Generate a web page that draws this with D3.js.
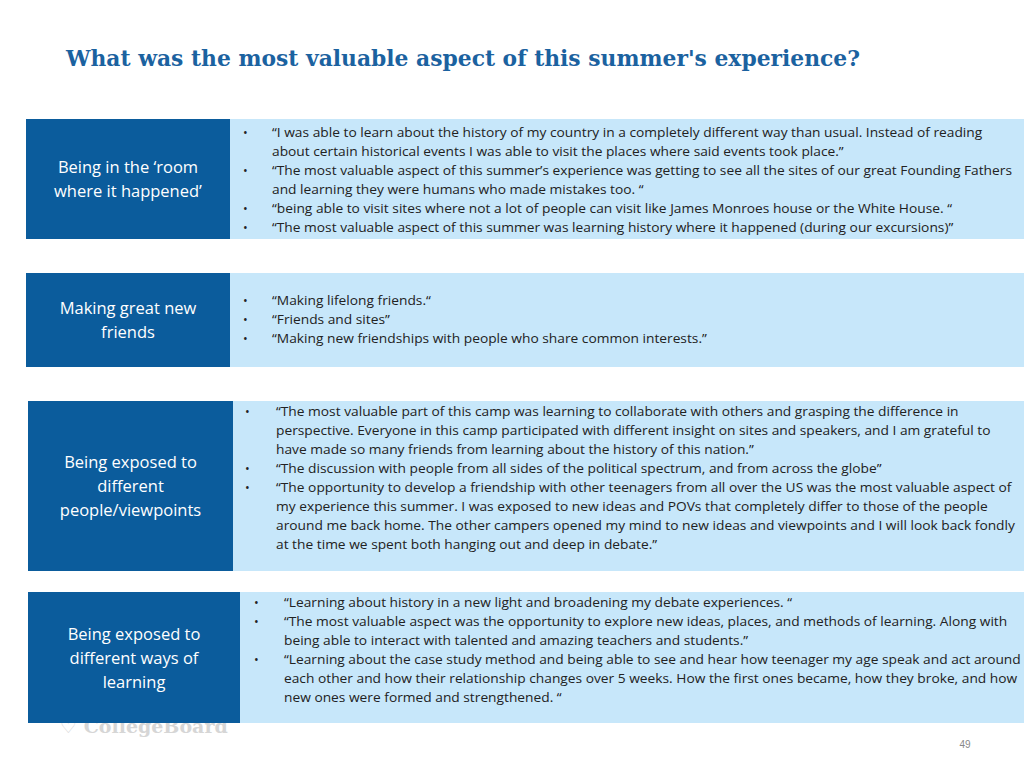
<!DOCTYPE html>
<html><head><meta charset="utf-8">
<script src="https://cdn.jsdelivr.net/npm/d3@7"></script>
<style>body{margin:0;background:#fff}</style>
</head><body>
<script>
const title = "What was the most valuable aspect of this summer's experience?";
const categories = [
  ["Being in the \u2018room", "where it happened\u2019"],
  ["Making great new", "friends"],
  ["Being exposed to", "different", "people/viewpoints"],
  ["Being exposed to", "different ways of", "learning"]
];
const quotes1 = [
  ["\u201cI was able to learn about the history of my country in a completely different way than usual. Instead of reading", "about certain historical events I was able to visit the places where said events took place.\u201d"],
  ["\u201cThe most valuable aspect of this summer\u2019s experience was getting to see all the sites of our great Founding Fathers", "and learning they were humans who made mistakes too. \u201c"],
  ["\u201cbeing able to visit sites where not a lot of people can visit like James Monroes house or the White House. \u201c"],
  ["\u201cThe most valuable aspect of this summer was learning history where it happened (during our excursions)\u201d"]
];
const quotes2 = [
  ["\u201cMaking lifelong friends.\u201c"],
  ["\u201cFriends and sites\u201d"],
  ["\u201cMaking new friendships with people who share common interests.\u201d"]
];
const quotes3 = [
  ["\u201cThe most valuable part of this camp was learning to collaborate with others and grasping the difference in", "perspective. Everyone in this camp participated with different insight on sites and speakers, and I am grateful to", "have made so many friends from learning about the history of this nation.\u201d"],
  ["\u201cThe discussion with people from all sides of the political spectrum, and from across the globe\u201d"],
  ["\u201cThe opportunity to develop a friendship with other teenagers from all over the US was the most valuable aspect of", "my experience this summer. I was exposed to new ideas and POVs that completely differ to those of the people", "around me back home. The other campers opened my mind to new ideas and viewpoints and I will look back fondly", "at the time we spent both hanging out and deep in debate.\u201d"]
];
const quotes4 = [
  ["\u201cLearning about history in a new light and broadening my debate experiences. \u201c"],
  ["\u201cThe most valuable aspect was the opportunity to explore new ideas, places, and methods of learning. Along with", "being able to interact with talented and amazing teachers and students.\u201d"],
  ["\u201cLearning about the case study method and being able to see and hear how teenager my age speak and act around", "each other and how their relationship changes over 5 weeks. How the first ones became, how they broke, and how", "new ones were formed and strengthened. \u201c"]
];
const quotes = [quotes1, quotes2, quotes3, quotes4];
const boxes = [
  {x:26, split:230, y0:119, y1:239, bx:243, tx:272, ty:132},
  {x:26, split:230, y0:273, y1:367, bx:243, tx:272, ty:300},
  {x:28, split:233, y0:401, y1:571, bx:245, tx:276, ty:411},
  {x:28, split:240, y0:592, y1:723, bx:254, tx:284, ty:602}
];
const W=1024,H=768;
const svg=d3.select("body").append("svg").attr("width",W).attr("height",H);
const yScale=d3.scaleLinear().domain([0,1]).range([0,19]);
const FF="Open Sans, Liberation Sans";
svg.append("text").attr("x",60).attr("y",733).attr("fill","#d6d6d6")
  .attr("font-family","DejaVu Serif").attr("font-weight","bold").attr("font-size",19).text("\u2661 CollegeBoard");
svg.append("text").attr("x",66).attr("y",66).attr("fill","#1b62a0")
  .attr("font-family","DejaVu Serif").attr("font-weight","bold").attr("font-size",22)
  .attr("textLength",794).attr("lengthAdjust","spacingAndGlyphs").text(title);
boxes.forEach((b,i)=>{
  svg.append("rect").attr("x",b.split).attr("y",b.y0).attr("width",W-b.split).attr("height",b.y1-b.y0).attr("fill","#c7e7fa");
  svg.append("rect").attr("x",b.x).attr("y",b.y0).attr("width",b.split-b.x).attr("height",b.y1-b.y0).attr("fill","#0b5c9c");
  const cat=categories[i], cx=(b.x+b.split)/2, cy=(b.y0+b.y1)/2;
  cat.forEach((l,j)=>{
    svg.append("text").attr("x",cx).attr("y",cy+(j-(cat.length-1)/2)*24+6).attr("text-anchor","middle")
      .attr("fill","#fff").attr("font-family",FF).attr("font-size",16.5).text(l);
  });
  let line=0;
  quotes[i].forEach(q=>{
    svg.append("text").attr("x",b.bx).attr("y",b.ty+yScale(line)+5).attr("font-family",FF).attr("font-size",12.5).attr("fill","#222").text("\u2022");
    q.forEach(l=>{
      const t=svg.append("text").attr("x",b.tx).attr("y",b.ty+yScale(line)+5)
        .attr("font-family",FF).attr("font-size",12.8).attr("fill","#222").text(l);
      const w=t.node().getComputedTextLength();
      t.attr("textLength",w*1.075).attr("lengthAdjust","spacingAndGlyphs");
      line++;
    });
  });
});
svg.append("text").attr("x",965).attr("y",748).attr("text-anchor","middle").attr("fill","#888")
  .attr("font-family","Liberation Sans").attr("font-size",10).text("49");
</script>
</body></html>
